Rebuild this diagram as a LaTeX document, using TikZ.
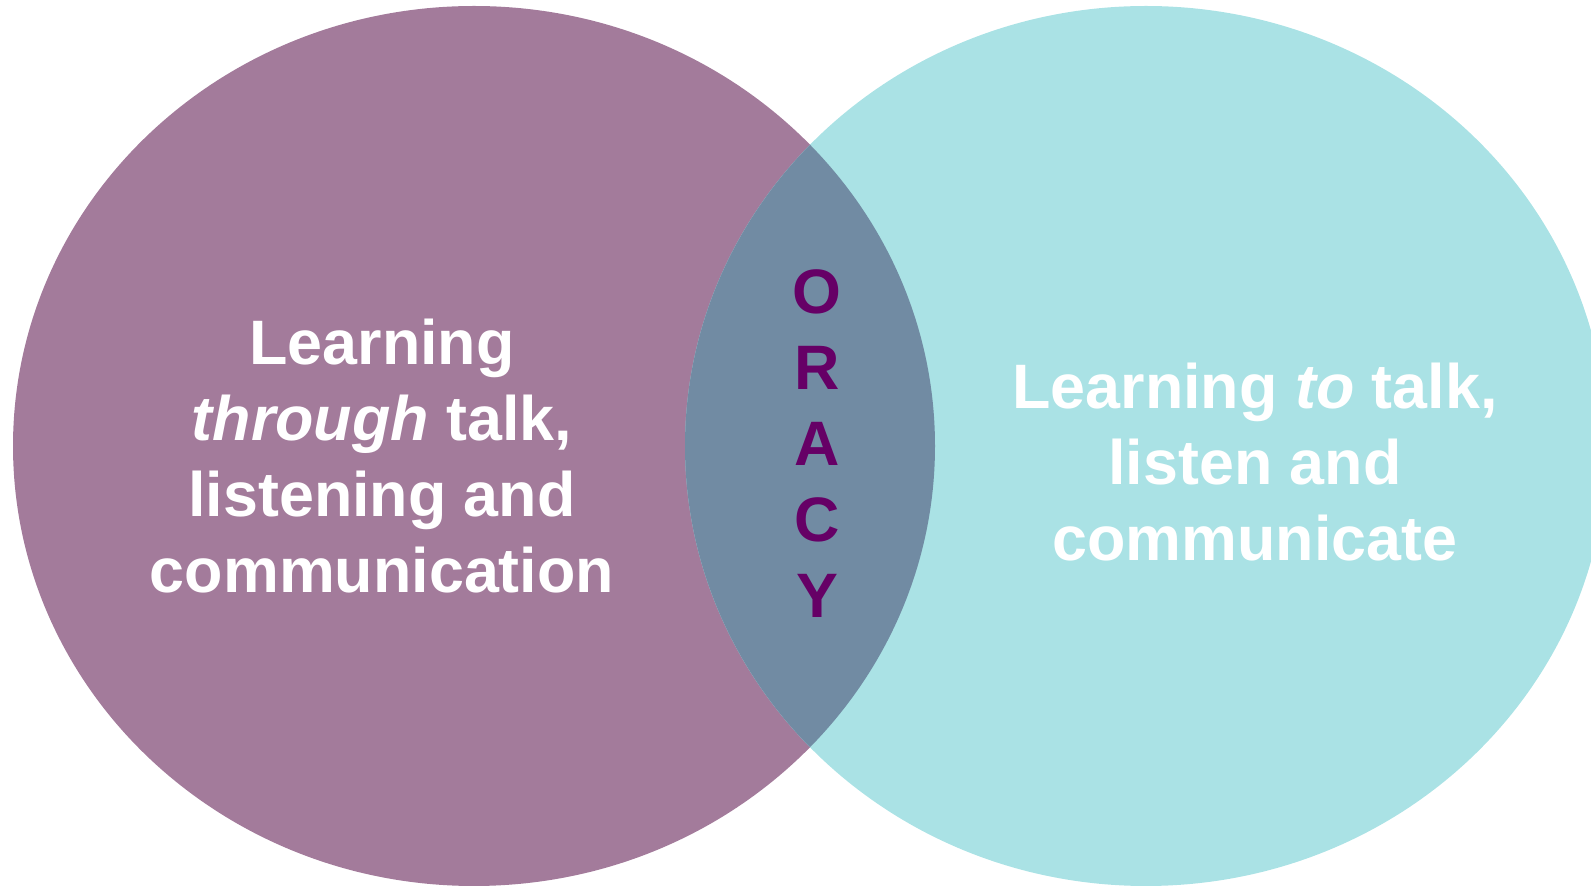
\documentclass[tikz,border=0pt]{standalone}
\usepackage{fontspec}
\setmainfont{Liberation Sans}
\usepackage{tikz}

\definecolor{plum}{RGB}{163,123,155}
\definecolor{aqua}{RGB}{170,226,229}
\definecolor{slate}{RGB}{113,139,163}
\definecolor{oracy}{RGB}{102,0,102}

\tikzset{
  bigtext/.style={align=center, inner sep=0pt, anchor=base, text=white,
    font=\fontsize{31.4}{38}\selectfont\bfseries},
  lefthalf/.style={x radius=230.5pt, y radius=220pt},
}

\begin{document}
\begin{tikzpicture}[x=0.5pt, y=-0.5pt]
	\useasboundingbox (0,0) rectangle (1591,886);

	% the two circles and their overlap
	\fill[plum] (474,446) ellipse [lefthalf];
	\fill[aqua] (1146,446) ellipse [lefthalf];
	\begin{scope}
		\clip (474,446) ellipse [lefthalf];
		\fill[slate] (1146,446) ellipse [lefthalf];
	\end{scope}

	% base anchor sits on the last line
	\node[bigtext] (through) at (382,593) {Learning\\ \textit{through} talk,\\ listening and\\ communication};
	\node[bigtext] (to) at (1255,561) {Learning \textit{to} talk,\\ listen and\\ communicate};
	\node[bigtext, text=oracy] (oracy) at (817,618) {O\\ R\\ A\\ C\\ Y};
\end{tikzpicture}
\end{document}
